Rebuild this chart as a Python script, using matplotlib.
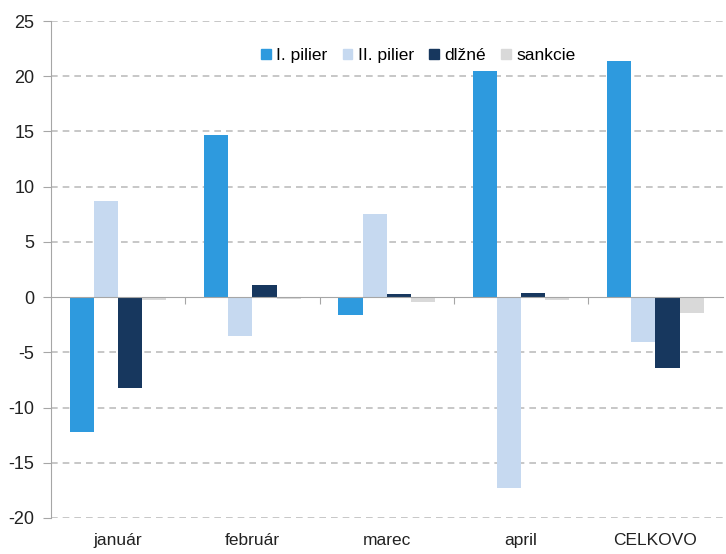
import numpy as np
import matplotlib.pyplot as plt
from matplotlib.patches import Patch

plt.rcParams['font.family'] = ['Liberation Sans Narrow', 'Liberation Sans', 'DejaVu Sans']
plt.rcParams['axes.unicode_minus'] = False

categories = ['január', 'február', 'marec', 'april', 'CELKOVO']
series = ['I. pilier', 'II. pilier', 'dlžné', 'sankcie']
pilier1 = [-12.2, 14.7, -1.6, 20.5, 21.4]
pilier2 = [8.7, -3.5, 7.5, -17.3, -4.1]
dlzne = [-8.2, 1.1, 0.3, 0.4, -6.4]
sankcie = [-0.3, -0.2, -0.4, -0.3, -1.4]
colors = ['#2E9ADE', '#C6D9F0', '#17375E', '#D9D9D9']

fig = plt.figure(figsize=(7.26, 5.54), dpi=100)
ax = fig.add_axes([0.0702, 0.065, 0.925, 0.897])

x = np.arange(len(categories))
w = 0.18
for i, vals in enumerate([pilier1, pilier2, dlzne, sankcie]):
    ax.bar(x + (i - 1.5) * w, vals, width=w, color=colors[i], zorder=3)

ax.set_xlim(-0.5, len(categories) - 0.5)
ax.set_ylim(-20, 25)
ax.set_yticks(np.arange(-20, 26, 5))
for v in np.arange(-20, 26, 5):
    if v != 0:
        ax.axhline(v, color='#BDBDBD', lw=1.2, ls=(0, (4, 3)), zorder=1)

for s in ['top', 'right']:
    ax.spines[s].set_visible(False)
ax.spines['left'].set_color('#A6A6A6')
ax.spines['bottom'].set_color('#A6A6A6')
ax.spines['bottom'].set_position(('data', 0))
ax.spines['bottom'].set_zorder(4)
ax.tick_params(axis='y', colors='#A6A6A6', length=6, labelcolor='#222222', labelsize=13, pad=6)
ax.set_xticks(np.arange(len(categories) - 1) + 0.5)
ax.set_xticklabels([])
ax.tick_params(axis='x', colors='#A6A6A6', length=5, direction='out')

sec = ax.secondary_xaxis(-0.02)
sec.set_xticks(x)
sec.set_xticklabels(categories)
sec.tick_params(length=0, labelsize=12.5, labelcolor='#222222')
sec.spines['bottom'].set_visible(False)

handles = [Patch(color=c) for c in colors]
ax.legend(handles, series, loc='center', bbox_to_anchor=(0.547, 0.93), ncol=4,
          frameon=False, fontsize=12.5, handlelength=0.55, handleheight=0.55,
          handletextpad=0.3, columnspacing=0.9)

fig.savefig('out.png', dpi=100)
